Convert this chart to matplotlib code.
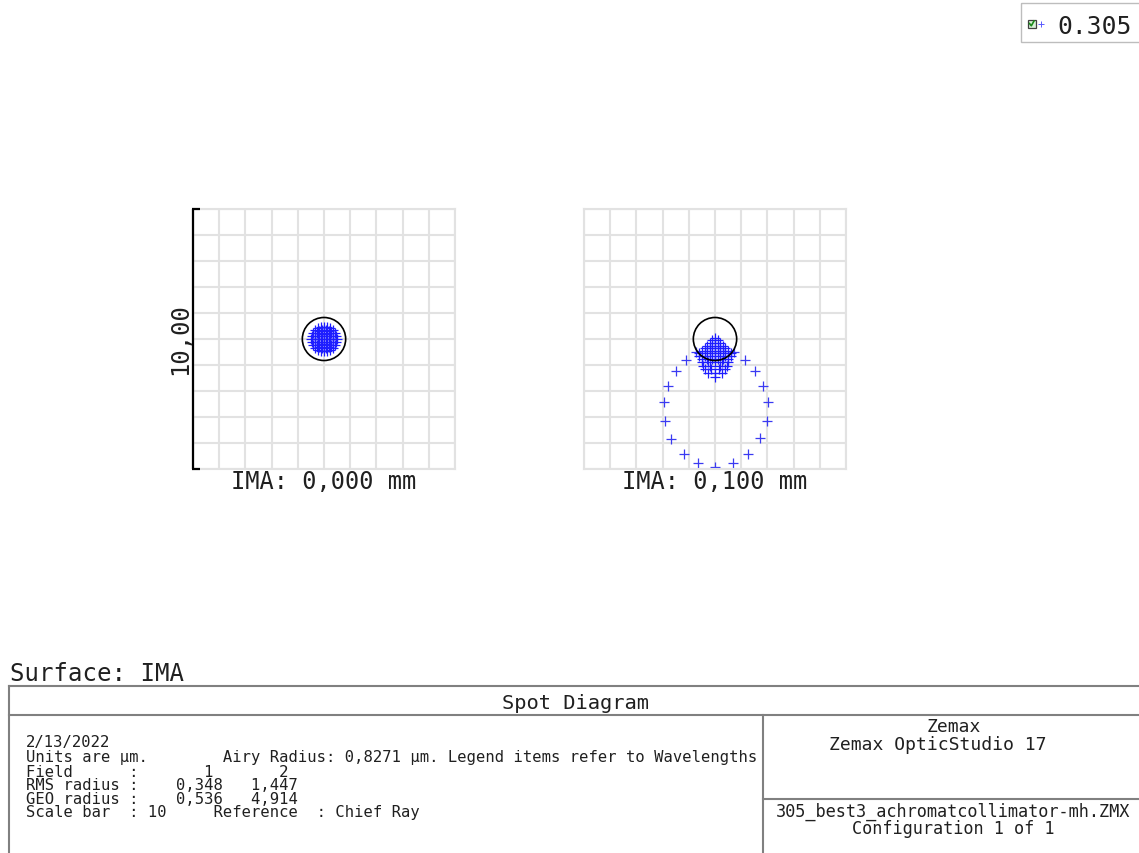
import numpy as np
import matplotlib
matplotlib.use('Agg')
import matplotlib.pyplot as plt
from matplotlib.patches import Circle, Rectangle

MONO = 'DejaVu Sans Mono'
W, H = 1139, 854

# spot data, micrometres relative to chief ray
field_labels = ['IMA: 0,000 mm', 'IMA: 0,100 mm']
airy_radius = 0.8271
scale_bar = 10.0
wavelength = '0.305'

spot1_x = [0.0,
           0.12, 0.06, -0.06, -0.12, -0.06, 0.06,
           0.24, 0.208, 0.12, 0.0, -0.12, -0.208, -0.24, -0.208, -0.12, 0.0, 0.12, 0.208,
           0.36, 0.338, 0.276, 0.18, 0.063, -0.063, -0.18, -0.276, -0.338, -0.36,
           -0.338, -0.276, -0.18, -0.063, 0.063, 0.18, 0.276, 0.338,
           0.48, 0.464, 0.416, 0.339, 0.24, 0.124, 0.0, -0.124, -0.24, -0.339, -0.416, -0.464,
           -0.48, -0.464, -0.416, -0.339, -0.24, -0.124, 0.0, 0.124, 0.24, 0.339, 0.416, 0.464]
spot1_y = [0.0,
           0.0, 0.104, 0.104, 0.0, -0.104, -0.104,
           0.0, 0.12, 0.208, 0.24, 0.208, 0.12, 0.0, -0.12, -0.208, -0.24, -0.208, -0.12,
           0.0, 0.123, 0.231, 0.312, 0.355, 0.355, 0.312, 0.231, 0.123, 0.0,
           -0.123, -0.231, -0.312, -0.355, -0.355, -0.312, -0.231, -0.123,
           0.0, 0.124, 0.24, 0.339, 0.416, 0.464, 0.48, 0.464, 0.416, 0.339, 0.24, 0.124,
           0.0, -0.124, -0.24, -0.339, -0.416, -0.464, -0.48, -0.464, -0.416, -0.339, -0.24, -0.124]

# field 2: compact core below the chief ray
core2_x = [0.0,
           -0.1, 0.1,
           -0.2, 0.0, 0.2,
           -0.3, -0.1, 0.1, 0.3,
           -0.4, -0.2, 0.0, 0.2, 0.4,
           -0.5, -0.3, -0.1, 0.1, 0.3, 0.5,
           -0.6, -0.4, -0.2, 0.0, 0.2, 0.4, 0.6,
           -0.6, -0.4, -0.2, 0.0, 0.2, 0.4, 0.6,
           -0.5, -0.3, -0.1, 0.1, 0.3, 0.5,
           -0.5, -0.25, 0.0, 0.25, 0.5,
           -0.45, -0.2, 0.2, 0.45,
           -0.4, -0.15, 0.15, 0.4,
           -0.25, 0.0, 0.25,
           0.0]
core2_y = [0.05,
           -0.05, -0.05,
           -0.15, -0.15, -0.15,
           -0.25, -0.25, -0.25, -0.25,
           -0.35, -0.35, -0.35, -0.35, -0.35,
           -0.45, -0.45, -0.45, -0.45, -0.45, -0.45,
           -0.55, -0.55, -0.55, -0.55, -0.55, -0.55, -0.55,
           -0.65, -0.65, -0.65, -0.65, -0.65, -0.65, -0.65,
           -0.75, -0.75, -0.75, -0.75, -0.75, -0.75,
           -0.88, -0.88, -0.88, -0.88, -0.88,
           -1.02, -1.02, -1.02, -1.02,
           -1.16, -1.16, -1.16, -1.16,
           -1.30, -1.30, -1.30,
           -1.45]

# field 2: outer pupil-edge ring
ring2_x = [-0.73, -1.12, -1.50, -1.81, -1.96, -1.92, -1.69, -1.19, -0.65, 0.0,
           0.69, 1.27, 1.73, 2.0, 2.04, 1.85, 1.54, 1.15, 0.73]
ring2_y = [-0.50, -0.81, -1.23, -1.81, -2.42, -3.15, -3.85, -4.42, -4.77, -4.91,
           -4.77, -4.42, -3.81, -3.15, -2.42, -1.81, -1.23, -0.81, -0.50]

summary_lines = [
    '2/13/2022',
    'Units are \u00b5m.        Airy Radius: 0,8271 \u00b5m. Legend items refer to Wavelengths',
    'Field      :       1       2',
    'RMS radius :    0,348   1,447',
    'GEO radius :    0,536   4,914',
    'Scale bar  : 10     Reference  : Chief Ray',
]

fig = plt.figure(figsize=(W / 100, H / 100), dpi=100)

# pixel-space overlay for the frame and text
bg = fig.add_axes([0, 0, 1, 1])
bg.set_xlim(0, W)
bg.set_ylim(H, 0)
bg.axis('off')


def px_axes(x0, y0, w, h):
    return fig.add_axes([x0 / W, 1 - (y0 + h) / H, w / W, h / H])


spot_color = '#1e1eff'
ring_color = '#3a3af2'
grid_color = '#e2e2e2'
panels = [
    (193, [(spot1_x, spot1_y, spot_color)]),
    (584, [(ring2_x, ring2_y, ring_color), (core2_x, core2_y, spot_color)]),
]
for i, (left, series) in enumerate(panels):
    ax = px_axes(left, 210, 262, 260)
    ax.set_xlim(-scale_bar / 2, scale_bar / 2)
    ax.set_ylim(-scale_bar / 2, scale_bar / 2)
    ticks = np.arange(-5, 6, 1)
    ax.set_xticks(ticks)
    ax.set_yticks(ticks)
    ax.tick_params(length=0, labelbottom=False, labelleft=False)
    ax.grid(True, color=grid_color, lw=1.5)
    ax.set_axisbelow(True)
    for s in ax.spines.values():
        s.set_color(grid_color)
        s.set_linewidth(1.5)
    ax.patch.set_alpha(0)
    for xs, ys, c in series:
        ax.plot(xs, ys, ls='none', marker='+', ms=6.5, mew=0.9, mec=c, color=c)
    ax.add_patch(Circle((0, 0), airy_radius, fill=False, ec='black', lw=1.2, zorder=5))
    cx = left + 131
    bg.text(cx, 489, field_labels[i], ha='center', va='baseline', fontsize=17, family=MONO, color='#202020')
    if i == 0:
        kw = dict(color='black', lw=1.6, clip_on=False, solid_capstyle='butt', zorder=6)
        ax.plot([-5, -5], [-5, 5], **kw)
        ax.plot([-5.05, -4.75], [5, 5], **kw)
        ax.plot([-5.05, -4.75], [-5, -5], **kw)

bg.text(187, 339, '10,00', rotation=90, rotation_mode='anchor', ha='center', va='baseline',
        fontsize=17.2, family=MONO, color='#202020')

# wavelength legend in the corner
bg.add_patch(Rectangle((1021, 4), 130, 39, fill=False, ec='#bdbdbd', lw=1))
bg.add_patch(Rectangle((1027.5, 20.5), 8, 8, fc='#d8f0d8', ec='#404040', lw=0.9))
bg.plot([1029.5, 1031.3, 1034], [24.5, 26.8, 22], color='#1a8a1a', lw=1.2)
bg.plot([1041], [25], ls='none', marker='+', ms=4, mew=0.7, color='#5a5aff')
bg.text(1057, 34, wavelength, ha='left', va='baseline', fontsize=17.7, family=MONO, color='#202020')

# footer block
bg.text(10, 681, 'Surface: IMA', ha='left', va='baseline', fontsize=17.3, family=MONO, color='#202020')
line = dict(color='#808080', lw=1.5)
bg.plot([9, 1150], [687, 687], **line)
bg.plot([9, 9], [687, 860], **line)
bg.plot([9, 1150], [716, 716], **line)
bg.plot([763, 763], [716, 860], **line)
bg.plot([763, 1150], [800, 800], **line)
bg.text(575, 709, 'Spot Diagram', ha='center', va='baseline', fontsize=14.7, family=MONO, color='#202020')

baselines = [747, 762, 777, 790.5, 804, 817]
for txt, yb in zip(summary_lines, baselines):
    bg.text(26, yb, txt, ha='left', va='baseline', fontsize=11.16, family=MONO, color='#202020')

bg.text(953.5, 732, 'Zemax', ha='center', va='baseline', fontsize=13.0, family=MONO, color='#202020')
bg.text(937.5, 750.5, 'Zemax OpticStudio 17', ha='center', va='baseline', fontsize=13.0, family=MONO, color='#202020')
bg.text(953, 817, '305_best3_achromatcollimator-mh.ZMX', ha='center', va='baseline', fontsize=12.2,
        family=MONO, color='#202020')
bg.text(953.5, 834, 'Configuration 1 of 1', ha='center', va='baseline', fontsize=12.2, family=MONO, color='#202020')

fig.savefig('out.png', dpi=100, facecolor='white')
